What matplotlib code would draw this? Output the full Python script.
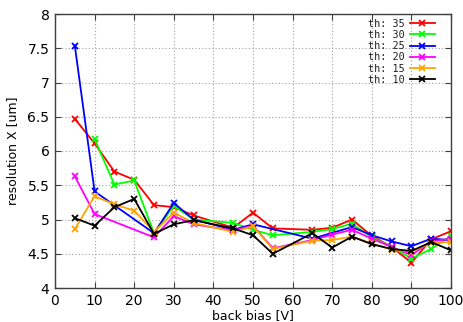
import matplotlib
matplotlib.use("Agg")
import matplotlib.pyplot as plt

# back bias scan, one series per threshold
x_th35 = [5, 10, 15, 20, 25, 30, 35, 45, 50, 55, 65, 70, 75, 80, 85, 90, 95, 100]
y_th35 = [6.47, 6.11, 5.70, 5.58, 5.21, 5.18, 5.06, 4.88, 5.10, 4.87, 4.85, 4.88, 5.00, 4.76, 4.60, 4.37, 4.71, 4.83]

x_th30 = [10, 15, 20, 25, 30, 35, 45, 50, 55, 65, 70, 75, 80, 85, 90, 95, 100]
y_th30 = [6.17, 5.51, 5.57, 4.80, 5.20, 5.00, 4.95, 4.85, 4.77, 4.82, 4.86, 4.94, 4.74, 4.60, 4.43, 4.57, 4.76]

x_th25 = [5, 10, 25, 30, 35, 45, 50, 65, 75, 80, 85, 90, 95, 100]
y_th25 = [7.54, 5.41, 4.80, 5.24, 5.00, 4.85, 4.93, 4.72, 4.89, 4.77, 4.68, 4.61, 4.72, 4.70]

x_th20 = [5, 10, 25, 30, 35, 45, 50, 55, 65, 70, 75, 80, 85, 90, 95, 100]
y_th20 = [5.63, 5.08, 4.74, 5.05, 4.93, 4.84, 4.91, 4.58, 4.70, 4.78, 4.85, 4.72, 4.60, 4.48, 4.68, 4.72]

x_th15 = [5, 10, 15, 20, 25, 30, 35, 45, 50, 55, 65, 70, 75, 80, 85, 90, 95, 100]
y_th15 = [4.86, 5.34, 5.22, 5.13, 4.82, 5.10, 4.95, 4.82, 4.90, 4.57, 4.69, 4.70, 4.75, 4.65, 4.56, 4.53, 4.66, 4.67]

x_th10 = [5, 10, 15, 20, 25, 30, 35, 45, 50, 55, 65, 70, 75, 80, 85, 90, 95, 100]
y_th10 = [5.02, 4.91, 5.18, 5.30, 4.79, 4.93, 4.99, 4.87, 4.77, 4.50, 4.80, 4.59, 4.75, 4.64, 4.57, 4.54, 4.67, 4.55]

labels = ["th: 35", "th: 30", "th: 25", "th: 20", "th: 15", "th: 10"]
colors = ["#ff0000", "#00ff00", "#0000ff", "#ff00ff", "#ffa500", "#000000"]
xs = [x_th35, x_th30, x_th25, x_th20, x_th15, x_th10]
ys = [y_th35, y_th30, y_th25, y_th20, y_th15, y_th10]

x_ticks = list(range(0, 101, 10))
y_ticks = [4, 4.5, 5, 5.5, 6, 6.5, 7, 7.5, 8]
y_ticklabels = ["4", "4.5", "5", "5.5", "6", "6.5", "7", "7.5", "8"]

fig = plt.figure(figsize=(4.64, 3.22), dpi=100)
ax = fig.add_axes([55 / 464, 1 - 288 / 322, (451 - 55) / 464, (288 - 14) / 322])

for x, y, c, lab in zip(xs, ys, colors, labels):
    ax.plot(x, y, color=c, lw=1.3, marker="x", ms=5, mew=1.3, label=lab)

ax.set_xlim(0, 100)
ax.set_ylim(4, 8)
ax.set_xticks(x_ticks)
ax.set_yticks(y_ticks)
ax.set_yticklabels(y_ticklabels)
ax.grid(True, color="#a0a0a0", linestyle=(0, (1, 2)), lw=0.8)
ax.tick_params(direction="in", top=True, right=True, length=4, width=0.8,
               labelsize=10, color="#404040", pad=4)
for s in ax.spines.values():
    s.set_color("#404040")
    s.set_linewidth(1.0)

ax.set_xlabel("back bias [V]", fontsize=9, labelpad=1)
ax.set_ylabel("resolution X [um]", fontsize=9, labelpad=6)

leg = ax.legend(loc="upper right", frameon=False, markerfirst=False,
                prop={"family": "DejaVu Sans Mono", "size": 7.3},
                handlelength=2.5, handletextpad=0.5, labelspacing=0.12,
                borderaxespad=0.2, bbox_to_anchor=(0.975, 1.005))
for t in leg.get_texts():
    t.set_ha("right")
    t.set_color("#202020")

fig.savefig("out.png", dpi=100)
